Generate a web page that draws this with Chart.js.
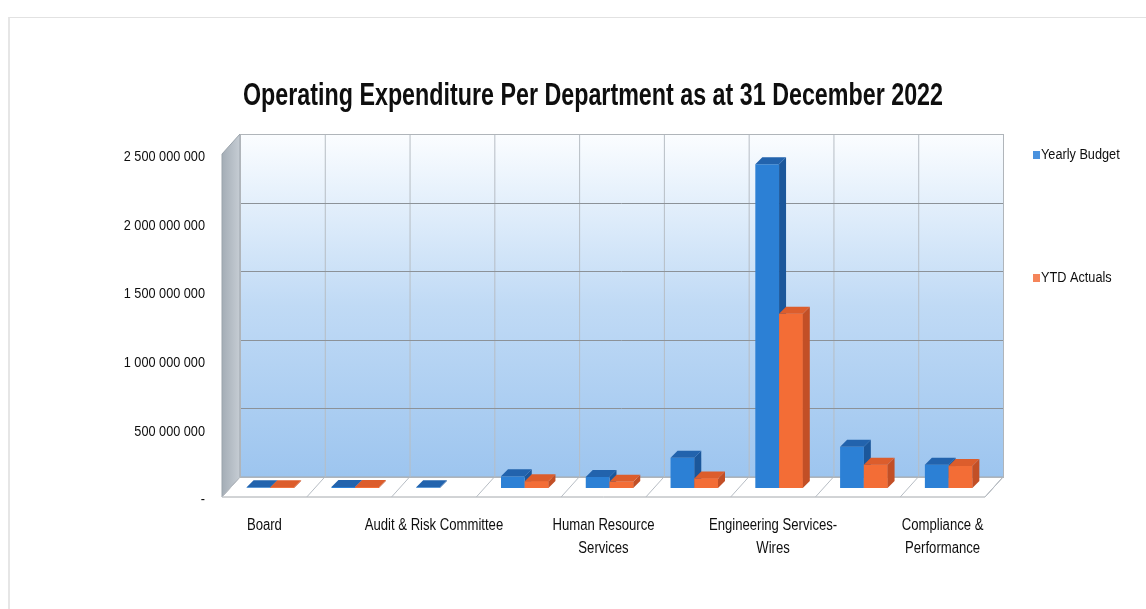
<!DOCTYPE html>
<html>
<head>
<meta charset="utf-8">
<title>Operating Expenditure Per Department</title>
<script src="https://cdn.jsdelivr.net/npm/chart.js@4.4.0/dist/chart.umd.min.js"></script>
<style>
  html, body { margin: 0; padding: 0; background: #ffffff; }
  #wrap { position: relative; width: 1146px; height: 609px; overflow: hidden; }
  #frame { position: absolute; left: 8px; top: 17px; width: 1140px; height: 600px;
           border-top: 1px solid #e2e2e2; border-left: 2px solid #e6e6e6; }
  canvas { position: absolute; left: 0; top: 0; }
</style>
</head>
<body>
<div id="wrap">
  <div id="frame"></div>
  <canvas id="chart" width="1146" height="609"></canvas>
</div>
<script>
// ---- data ----
const chartTitle = 'Operating Expenditure Per Department as at 31 December 2022';
const categories = [
  'Board', '', 'Audit & Risk Committee', '', ['Human Resource', 'Services'],
  '', ['Engineering Services-', 'Wires'], '', ['Compliance &', 'Performance']
];
const seriesNames = ['Yearly Budget', 'YTD Actuals'];
const yearlyBudget = [5e6, 8e6, 5e6, 85e6, 80e6, 220e6, 2360e6, 300e6, 170e6];
const ytdActuals   = [5e6, 8e6, null, 50e6, 45e6, 70e6, 1270e6, 170e6, 160e6];
const yTickValues  = [0, 500e6, 1000e6, 1500e6, 2000e6, 2500e6];

// ---- look ----
const FONT = '"Liberation Sans", Arial, sans-serif';
const NARROW = 0.82;                // horizontal squeeze for the condensed lettering
const INK = '#0e0e0e';
const frontColors = ['#2c80d5', '#f36d36'];
const sideColors  = ['#1b579b', '#c24f26'];
const topColors   = ['#2263ad', '#dc5d2c'];
const keyColors   = ['#4a92de', '#f5855a'];
const DEPTH = 7;                    // bar depth
const BACK  = { dx: 12, dy: -11 };  // back wall offset from the bar plane
const FRONT = { dx: -6, dy: 9 };    // front edge offset from the bar plane

function spaced(v) {
  return String(Math.round(v)).replace(/\B(?=(\d{3})+(?!\d))/g, ' ');
}

function condensedText(ctx, text, x, y, align, font, squeeze) {
  ctx.save();
  ctx.font = font;
  ctx.textAlign = align;
  ctx.textBaseline = 'middle';
  ctx.translate(x, y);
  ctx.scale(squeeze, 1);
  ctx.fillText(text, 0, 0);
  ctx.restore();
}

// Walls, floor and gridlines of the 3-D box behind the bars
const scenePlugin = {
  id: 'scene',
  beforeDatasetsDraw(chart) {
    const { ctx, chartArea: a, scales: { y } } = chart;
    const n = categories.length;
    const cw = (a.right - a.left) / n;
    const bl = a.left + BACK.dx, br = a.right + BACK.dx;
    const bt = a.top + BACK.dy,  bb = a.bottom + BACK.dy;
    const fl = a.left + FRONT.dx, fr = a.right + FRONT.dx;
    const ft = a.top + FRONT.dy,  fb = a.bottom + FRONT.dy;
    ctx.save();

    // back wall
    const g = ctx.createLinearGradient(0, bt, 0, bb);
    g.addColorStop(0, '#fbfdff');
    g.addColorStop(0.16, '#e8f2fc');
    g.addColorStop(0.5, '#c0daf5');
    g.addColorStop(1, '#9dc5ef');
    ctx.fillStyle = g;
    ctx.fillRect(bl, bt, br - bl, bb - bt);

    // side wall
    const sg = ctx.createLinearGradient(fl, 0, bl, 0);
    sg.addColorStop(0, '#a4adb6');
    sg.addColorStop(1, '#c6cdd4');
    ctx.fillStyle = sg;
    ctx.beginPath();
    ctx.moveTo(fl, ft); ctx.lineTo(bl, bt); ctx.lineTo(bl, bb); ctx.lineTo(fl, fb);
    ctx.closePath(); ctx.fill();
    ctx.strokeStyle = '#9aa3ab'; ctx.lineWidth = 1; ctx.stroke();

    // floor
    ctx.fillStyle = '#ffffff';
    ctx.beginPath();
    ctx.moveTo(bl, bb); ctx.lineTo(br, bb); ctx.lineTo(fr, fb); ctx.lineTo(fl, fb);
    ctx.closePath(); ctx.fill();
    ctx.strokeStyle = '#a4a8ac'; ctx.stroke();

    // vertical gridlines on back wall + floor dividers
    ctx.strokeStyle = '#b7bdc4'; ctx.lineWidth = 1;
    for (let i = 0; i <= n; i++) {
      const xb = a.left + i * cw;
      ctx.beginPath();
      ctx.moveTo(xb + BACK.dx + 0.5, bt); ctx.lineTo(xb + BACK.dx + 0.5, bb);
      ctx.stroke();
      ctx.beginPath();
      ctx.moveTo(xb + BACK.dx, bb); ctx.lineTo(xb + FRONT.dx, fb);
      ctx.stroke();
    }

    // horizontal gridlines on back wall
    ctx.strokeStyle = '#8c9298';
    yTickValues.forEach(v => {
      const py = Math.round(y.getPixelForValue(v) + BACK.dy) + 0.5;
      ctx.beginPath(); ctx.moveTo(bl, py); ctx.lineTo(br, py); ctx.stroke();
    });
    ctx.strokeStyle = '#b0b5ba';
    ctx.strokeRect(bl + 0.5, bt + 0.5, br - bl, bb - bt);
    ctx.restore();
  },
  afterDatasetsDraw(chart) {
    const ctx = chart.ctx;
    const metas = [chart.getDatasetMeta(0), chart.getDatasetMeta(1)];
    const series = [yearlyBudget, ytdActuals];
    const faces = (el, k) => {
      const { x, y, base, width } = el.getProps(['x', 'y', 'base', 'width'], true);
      const l = x - width / 2, r = x + width / 2;
      ctx.fillStyle = sideColors[k];
      ctx.beginPath();
      ctx.moveTo(r, y); ctx.lineTo(r + DEPTH, y - DEPTH);
      ctx.lineTo(r + DEPTH, base - DEPTH); ctx.lineTo(r, base);
      ctx.closePath(); ctx.fill();
      ctx.fillStyle = topColors[k];
      ctx.beginPath();
      ctx.moveTo(l, y); ctx.lineTo(l + DEPTH, y - DEPTH);
      ctx.lineTo(r + DEPTH, y - DEPTH); ctx.lineTo(r, y);
      ctx.closePath(); ctx.fill();
    };
    ctx.save();
    for (let i = 0; i < categories.length; i++) {
      for (let k = 0; k < 2; k++) {
        if (series[k][i] === null) continue;
        const el = metas[k].data[i];
        if (!el) continue;
        if (k === 1) el.draw(ctx);   // right-hand bar sits in front of its neighbour's side
        faces(el, k);
      }
    }
    ctx.restore();
  },
  afterDraw(chart) {
    const { ctx, chartArea: a, scales: { x, y } } = chart;
    ctx.save();
    ctx.fillStyle = INK;

    // title, fitted to its line width
    ctx.font = 'bold 31px ' + FONT;
    const w = ctx.measureText(chartTitle).width;
    condensedText(ctx, chartTitle, 593, 96, 'center', 'bold 31px ' + FONT, Math.min(1, 700 / w));

    // value axis labels (front edge of the side wall)
    yTickValues.forEach(v => {
      condensedText(ctx, v === 0 ? '-' : spaced(v), 205, y.getPixelForValue(v) + 12,
                    'right', '15.5px ' + FONT, NARROW);
    });

    // category labels
    categories.forEach((lab, i) => {
      const lines = Array.isArray(lab) ? lab : [lab];
      const cx = x.getPixelForValue(i) - 6;
      lines.forEach((t, j) => {
        condensedText(ctx, t, cx, a.bottom + 38 + j * 23, 'center', '16px ' + FONT, NARROW);
      });
    });

    // legend
    const rows = [155, 278];
    chart.data.datasets.forEach((ds, k) => {
      ctx.fillStyle = keyColors[k];
      ctx.fillRect(1033, rows[k] - 4, 7, 8);
      ctx.fillStyle = INK;
      condensedText(ctx, ds.label, 1041, rows[k], 'left', '15.5px ' + FONT, NARROW);
    });
    ctx.restore();
  }
};

new Chart(document.getElementById('chart'), {
  type: 'bar',
  data: {
    labels: categories,
    datasets: [
      { label: seriesNames[0], data: yearlyBudget, backgroundColor: frontColors[0],
        categoryPercentage: 0.56, barPercentage: 1.0 },
      { label: seriesNames[1], data: ytdActuals, backgroundColor: frontColors[1],
        categoryPercentage: 0.56, barPercentage: 1.0 }
    ]
  },
  options: {
    responsive: false,
    animation: false,
    layout: { padding: { left: 0, right: 155, top: 145, bottom: 0 } },
    plugins: {
      legend: { display: false },
      title: { display: false },
      tooltip: { enabled: false }
    },
    scales: {
      x: {
        grid: { display: false, drawTicks: false },
        border: { display: false },
        ticks: { display: false },
        afterFit(s) { s.height = 609 - 488; }
      },
      y: {
        min: 0, max: 2500e6,
        afterBuildTicks(s) { s.ticks = yTickValues.map(v => ({ value: v })); },
        grid: { display: false, drawTicks: false },
        border: { display: false },
        ticks: { display: false },
        afterFit(s) { s.width = 228; }
      }
    }
  },
  plugins: [scenePlugin]
});
</script>
</body>
</html>
